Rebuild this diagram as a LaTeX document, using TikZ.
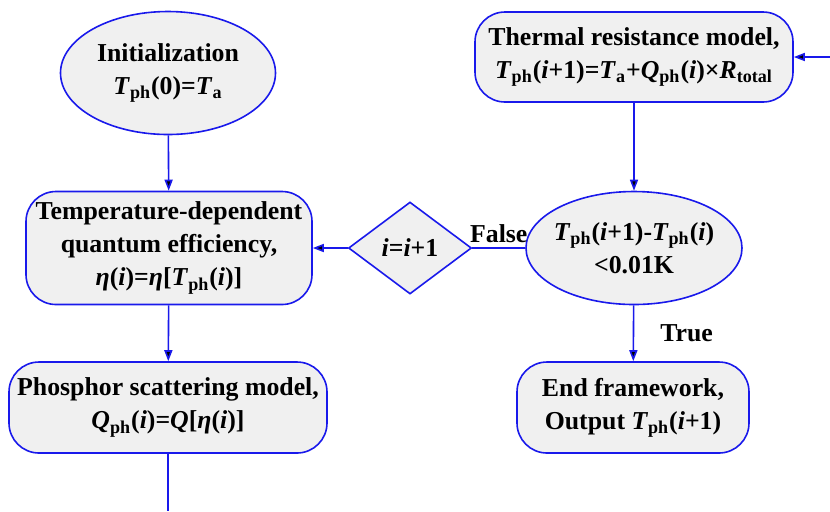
\documentclass[tikz,border=0pt]{standalone}
\usepackage{fontspec}
\setmainfont{Liberation Serif}
\usetikzlibrary{shapes.geometric}
\usetikzlibrary{arrows.meta}
\usetikzlibrary{positioning}
\definecolor{flowblue}{RGB}{25,25,235}
\definecolor{boxgray}{RGB}{240,240,240}
\newcommand{\Tph}{\textit{T}\textsubscript{ph}}
\newcommand{\Qph}{\textit{Q}\textsubscript{ph}}

\begin{document}
\begin{tikzpicture}[x=0.5pt,y=-0.5pt,->,>={Triangle[length=5.5pt,width=4pt]},line width=0.8pt,
    font=\fontsize{12.9}{16.5}\selectfont\bfseries,
    box node/.style={rectangle,rounded corners=15pt,draw=flowblue,fill=boxgray,align=center,inner sep=0pt},
    oval node/.style={ellipse,draw=flowblue,fill=boxgray,align=center,inner sep=0pt,inner xsep=-3pt},
    test node/.style={diamond,draw=flowblue,fill=boxgray,inner sep=0pt},
    link/.style={draw=flowblue}]
    \useasboundingbox (0,0) rectangle (830,511);
    \begin{scope}
      % left column
      \node[oval node,minimum width=107.5pt,minimum height=61.5pt] (init) at (168,73)
        {Initialization\\\Tph(0)=\textit{T}\textsubscript{a}};
      \node[box node,minimum width=143pt,minimum height=56.5pt] (tempqe) at (169,248)
        {Temperature-dependent\\quantum efficiency,\\\textit{η}(\textit{i})=\textit{η}[\Tph(\textit{i})]};
      \node[box node,minimum width=159pt,minimum height=45.5pt] (phosphor) at (168,407.5)
        {Phosphor scattering model,\\\Qph(\textit{i})=\textit{Q}[\textit{η}(\textit{i})]};
      \coordinate (outlet) at (168,511);

      % right column
      \node[box node,minimum width=159pt,minimum height=45pt] (thermal) at (634,57)
        {Thermal resistance model,\\\Tph(\textit{i}+1)=\textit{T}\textsubscript{a}+\Qph(\textit{i})×\textit{R}\textsubscript{total}};
      \coordinate (inlet) at (836,57);
      \node[oval node,minimum width=108pt,minimum height=56.5pt] (check) at (634,248)
        {\Tph(\textit{i}+1)-\Tph(\textit{i})\\<0.01K};
      \node[box node,minimum width=116pt,minimum height=45.5pt] (finish) at (633,407.5)
        {End framework,\\Output \Tph(\textit{i}+1)};

      % loop counter
      \node[test node,minimum width=61.5pt,minimum height=46pt] (incr) at (410,248)
        {\textit{i}=\textit{i}+1};

      \path[link] (init) edge (tempqe);
      \path[link] (tempqe) edge (phosphor);
      \path[link,-] (phosphor) edge (outlet);
      \path[link] (inlet) edge (thermal);
      \path[link] (thermal) edge (check);
      \path[link,-] (check) edge node[above,inner sep=2pt,text=black] {False} (incr);
      \path[link] (incr) edge (tempqe);
      \path[link] (check) edge node[right,xshift=10pt,inner sep=3pt,text=black] {True} (finish);
    \end{scope}
  \end{tikzpicture}
\end{document}
